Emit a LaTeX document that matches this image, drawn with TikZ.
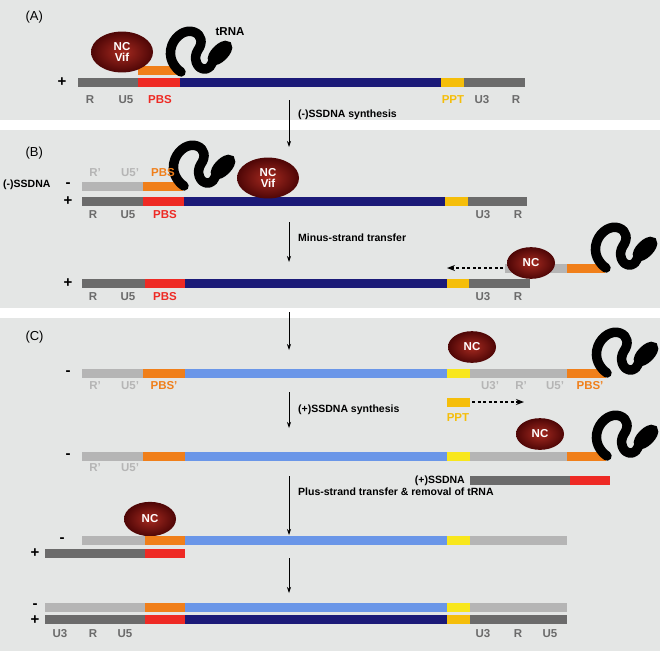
\documentclass[tikz,border=0pt]{standalone}
\usepackage{fontspec}
\setmainfont{Liberation Sans}
\usetikzlibrary{arrows.meta,shapes.geometric}
\definecolor{bgc}{HTML}{E4E6E5}
\definecolor{dg}{HTML}{6B6B6B}
\definecolor{lg}{HTML}{B5B5B5}
\definecolor{rd}{HTML}{EE2A24}
\definecolor{og}{HTML}{F07F1A}
\definecolor{nv}{HTML}{1B1A78}
\definecolor{bl}{HTML}{6A96E8}
\definecolor{yl}{HTML}{F8E71C}
\definecolor{pp}{HTML}{F5BE0A}
\definecolor{ncin}{HTML}{A62A20}
\definecolor{ncout}{HTML}{4E0606}
\tikzset{
 lab/.style={font=\bfseries\fontsize{11.5}{13}\selectfont,text=dg,inner sep=0pt},
 labl/.style={lab,text=lg},
 labr/.style={lab,text=rd},
 labo/.style={lab,text=og},
 step lab/.style={font=\bfseries\fontsize{10.5}{12}\selectfont,anchor=west,inner sep=0pt},
 sign/.style={font=\bfseries\fontsize{15}{16}\selectfont,inner sep=0pt},
 nc/.style={ellipse,minimum width=#1,minimum height=0.66*#1,inner sep=0pt,
   inner color=ncin,outer color=ncout,text=white,font=\bfseries\fontsize{11.5}{12}\selectfont,align=center},
 flow/.style={-{Stealth[length=6pt,width=4pt]},line width=0.7pt},
 dotarr/.style={-{Stealth[length=8pt,width=6pt]},line width=2.4pt,dash pattern=on 3pt off 2.5pt},
 trna/.pic={
   \draw[line width=9.5pt,line cap=round,line join=round]
   (0,0) .. controls (-6,-4) and (-14,-14) .. (-9,-27)
   .. controls (-5,-37) and (5,-43) .. (13,-40)
   .. controls (21,-37) and (22,-29) .. (17,-22)
   .. controls (12,-15) and (15,-2) .. (25,-3)
   .. controls (31,-4) and (32,-12) .. (34,-18);
   \draw[line width=10pt,rotate around={45:(39,-19)}] (39,-19) ellipse[x radius=9.5,y radius=3.5];},
}
\newcommand{\sbar}[4]{\fill[#1] (#2,#4) rectangle (#3,#4+8.5);}
\begin{document}
\begin{tikzpicture}[x=1pt,y=-1pt]
\useasboundingbox (0,0) rectangle (660,651);
\fill[bgc] (0,0) rectangle (660,120);
\fill[bgc] (0,130) rectangle (660,308);
\fill[bgc] (0,318) rectangle (660,651);
% ---------- A
\node[anchor=west,font=\fontsize{13}{15}\selectfont] (pa) at (22,17) {(A)};
\node[sign] (pA) at (62,82) {+};
\sbar{dg}{78}{138}{78}\sbar{rd}{138}{180}{78}\sbar{nv}{180}{441}{78}\sbar{pp}{441}{464}{78}\sbar{dg}{464}{525}{78}
\sbar{og}{138}{180}{66}
\pic at (181,72) {trna};
\node[nc=62] (ncA) at (122,52) {NC\\[-1pt]Vif};
\node[lab,text=black] (tr) at (230,32) {tRNA};
\node[lab] at (90,100) {R};\node[lab] at (126,100) {U5};\node[labr] at (160,100) {PBS};
\node[lab,text=pp] at (453,100) {PPT};\node[lab] at (482,100) {U3};\node[lab] at (516,100) {R};
\coordinate (a1) at (289,100);\coordinate (a2) at (289,147);
\draw[flow] (a1) -- (a2);
\node[step lab] at (298,115) {(-)SSDNA synthesis};
% ---------- B
\node[anchor=west,font=\fontsize{13}{15}\selectfont] (pb) at (22,153) {(B)};
\node[lab,text=black,anchor=west,font=\bfseries\fontsize{10.5}{12}\selectfont] at (3,185) {(-)SSDNA};\node[sign] at (68,185) {-};
\node[sign] at (68,201) {+};
\sbar{lg}{82}{143}{182}\sbar{og}{143}{183}{182}
\pic at (184,186) {trna};
\node[labl] at (95,173) {R'};\node[labl] at (130,173) {U5'};\node[labo] at (163,173) {PBS};
\sbar{dg}{82}{143}{197}\sbar{rd}{143}{184}{197}\sbar{nv}{184}{445}{197}\sbar{pp}{445}{468}{197}\sbar{dg}{468}{527}{197}
\node[nc=62] (ncB) at (268,178) {NC\\[-1pt]Vif};
\node[lab] at (93,215) {R};\node[lab] at (128,215) {U5};\node[labr] at (165,215) {PBS};
\node[lab] at (483,215) {U3};\node[lab] at (518,215) {R};
\coordinate (b1) at (289,222);\coordinate (b2) at (289,262);
\draw[flow] (b1) -- (b2);
\node[step lab] at (298,238) {Minus-strand transfer};
\sbar{lg}{505}{567}{264}\sbar{og}{567}{605}{264}
\pic at (606,268) {trna};
\node[nc=48] (ncB2) at (531,263) {NC};
\coordinate (d1) at (503,268);\coordinate (d2) at (447,268);
\draw[dotarr] (d1) -- (d2);
\node[sign] at (68,283) {+};
\sbar{dg}{82}{145}{279}\sbar{rd}{145}{185}{279}\sbar{nv}{185}{447}{279}\sbar{pp}{447}{469}{279}\sbar{dg}{469}{530}{279}
\node[lab] at (93,297) {R};\node[lab] at (128,297) {U5};\node[labr] at (165,297) {PBS};
\node[lab] at (483,297) {U3};\node[lab] at (518,297) {R};
\coordinate (c1) at (289,312);\coordinate (c2) at (289,350);
\draw[flow] (c1) -- (c2);
% ---------- C
\node[anchor=west,font=\fontsize{13}{15}\selectfont] (pc) at (22,337) {(C)};
\node[sign] at (68,373) {-};
\sbar{lg}{82}{143}{369}\sbar{og}{143}{185}{369}\sbar{bl}{185}{447}{369}\sbar{yl}{447}{470}{369}\sbar{lg}{470}{567}{369}\sbar{og}{567}{606}{369}
\pic at (607,373) {trna};
\node[nc=48] (ncC) at (472,347) {NC};
\node[labl] at (95,386) {R'};\node[labl] at (130,386) {U5'};\node[labo] at (164,386) {PBS'};
\node[labl] at (490,386) {U3'};\node[labl] at (521,386) {R'};\node[labl] at (555,386) {U5'};\node[labo] at (590,386) {PBS'};
\sbar{pp}{447}{470}{398}
\coordinate (e1) at (472,402);\coordinate (e2) at (524,402);
\draw[dotarr] (e1) -- (e2);
\node[lab,text=pp] at (458,418) {PPT};
\coordinate (f1) at (289,392);\coordinate (f2) at (289,428);
\draw[flow] (f1) -- (f2);
\node[step lab] at (298,410) {(+)SSDNA synthesis};
\node[sign] at (68,456) {-};
\sbar{lg}{82}{143}{452}\sbar{og}{143}{185}{452}\sbar{bl}{185}{447}{452}\sbar{yl}{447}{470}{452}\sbar{lg}{470}{567}{452}\sbar{og}{567}{606}{452}
\pic at (607,456) {trna};
\node[nc=48] (ncC2) at (540,434) {NC};
\node[labl] at (95,468) {R'};\node[labl] at (130,468) {U5'};
\node[lab,text=black,anchor=east,font=\bfseries\fontsize{10.5}{12}\selectfont] at (465,481) {(+)SSDNA};
\sbar{dg}{470}{570}{476}\sbar{rd}{570}{610}{476}
\coordinate (g1) at (289,476);\coordinate (g2) at (289,535);
\draw[flow] (g1) -- (g2);
\node[step lab] at (298,492) {Plus-strand transfer \& removal of tRNA};
\node[nc=52] (ncC3) at (150,519) {NC};
\node[sign] at (62,540) {-};
\sbar{lg}{82}{145}{536}\sbar{og}{145}{185}{536}\sbar{bl}{185}{447}{536}\sbar{yl}{447}{470}{536}\sbar{lg}{470}{567}{536}
\node[sign] at (35,553) {+};
\sbar{dg}{45}{145}{549}\sbar{rd}{145}{185}{549}
\coordinate (h1) at (289,558);\coordinate (h2) at (289,593);
\draw[flow] (h1) -- (h2);
\node[sign] at (35,606) {-};
\node[sign] at (35,620) {+};
\sbar{lg}{45}{145}{603}\sbar{og}{145}{185}{603}\sbar{bl}{185}{447}{603}\sbar{yl}{447}{470}{603}\sbar{lg}{470}{567}{603}
\sbar{dg}{45}{145}{615}\sbar{rd}{145}{185}{615}\sbar{nv}{185}{447}{615}\sbar{pp}{447}{470}{615}\sbar{dg}{470}{567}{615}
\node[lab] at (60,634) {U3};\node[lab] at (93,634) {R};\node[lab] at (125,634) {U5};
\node[lab] at (483,634) {U3};\node[lab] at (518,634) {R};\node[lab] at (550,634) {U5};
\end{tikzpicture}
\end{document}
